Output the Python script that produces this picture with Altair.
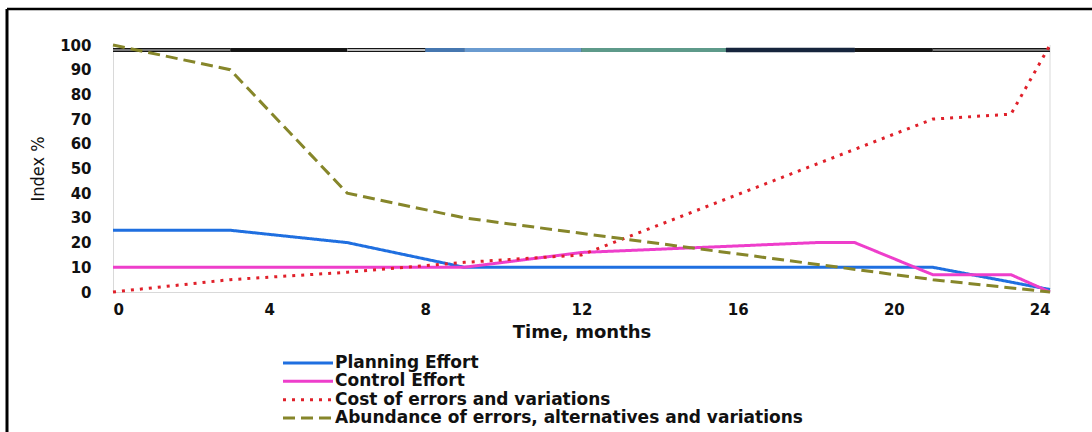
import altair as alt
import pandas as pd

# ---------------- data ----------------
SERIES = [
    "Planning Effort",
    "Control Effort",
    "Cost of errors and variations",
    "Abundance of errors, alternatives  and variations",
]
COLORS = ["#1F6FE0", "#EE3ECB", "#E0202A", "#86862A"]
DASHES = [[1, 0], [1, 0], [3, 6], [12, 6]]

planning_month = [0, 3, 6, 9, 21, 24]
planning_value = [25, 25, 20, 10, 10, 1]

control_month = [0, 9, 12, 18, 19, 21, 23, 24]
control_value = [10, 10, 16, 20, 20, 7, 7, 0]

cost_month = [0, 3, 6, 9, 12, 21, 23, 24]
cost_value = [0, 5, 8, 12, 15, 70, 72, 100]

abund_month = [0, 3, 6, 9, 21, 24]
abund_value = [100, 90, 40, 30, 5, 0]

# the multi-coloured bar along the top of the plot
band_start = [0, 3, 6, 8, 9, 12, 15.7, 19, 21]
band_end = [3, 6, 8, 9, 12, 15.7, 19, 21, 24]
band_kind = ["gray", "black", "white", "blue", "lightblue", "teal", "navy", "black", "gray"]
BAND_LEVEL = 98

x_ticks = [0, 4, 8, 12, 16, 20, 24]
y_ticks = [0, 10, 20, 30, 40, 50, 60, 70, 80, 90, 100]

# ---------------- tables ----------------
rows = []
for name, ms, vs in zip(
    SERIES,
    [planning_month, control_month, cost_month, abund_month],
    [planning_value, control_value, cost_value, abund_value],
):
    for m, v in zip(ms, vs):
        rows.append({"series": name, "month": m, "value": v})
df = pd.DataFrame(rows)

band_df = pd.DataFrame({"start": band_start, "end": band_end, "kind": band_kind})
legend_df = pd.DataFrame({"series": SERIES})

W, H = 937, 247
LEFT, TOP = 113, 45
LABEL_FONT = "DejaVu Sans"

xscale = alt.Scale(domain=[0, 24], nice=False)
yscale = alt.Scale(domain=[0, 100], nice=False)
color_scale = alt.Scale(domain=SERIES, range=COLORS)
dash_scale = alt.Scale(domain=SERIES, range=DASHES)

x_axis = alt.Axis(
    values=x_ticks, title="Time, months", grid=False, ticks=False,
    domainColor="#D9D9D9", labelFont=LABEL_FONT, labelFontSize=15,
    labelFontWeight="bold", labelColor="#111111", labelPadding=10,
    labelOverlap=False,
    titleFont=LABEL_FONT, titleFontSize=18, titleFontWeight="bold",
    titleColor="#111111", titlePadding=6,
)
y_axis = alt.Axis(
    values=y_ticks, tickCount=11, title="Index %", grid=False, ticks=False,
    domainColor="#D9D9D9", labelFont=LABEL_FONT, labelFontSize=15,
    labelFontWeight="bold", labelColor="#111111", labelPadding=22,
    labelOverlap=False, labelBound=False,
    titleFont="Liberation Sans Narrow, DejaVu Sans Condensed, sans-serif",
    titleFontSize=18, titleFontWeight="normal", titleColor="#111111",
    titlePadding=12,
)

# frame (black lines at top and left of the picture)
one = pd.DataFrame({"a": [0]})
frame_top = alt.Chart(one).mark_rule(color="black", strokeWidth=2.5).encode(
    x=alt.value(-LEFT + 7), x2=alt.value(1092 - LEFT), y=alt.value(-TOP + 9)
)
frame_left = alt.Chart(one).mark_rule(color="black", strokeWidth=3).encode(
    x=alt.value(-LEFT + 7), y=alt.value(-TOP + 9), y2=alt.value(432 - TOP)
)

# lines (carry the axes)
lines = alt.Chart(df).mark_line(strokeWidth=3).encode(
    x=alt.X("month:Q", scale=xscale, axis=x_axis),
    y=alt.Y("value:Q", scale=yscale, axis=y_axis),
    color=alt.Color("series:N", scale=color_scale, legend=None),
    strokeDash=alt.StrokeDash("series:N", scale=dash_scale, legend=None),
    order=alt.Order("month:Q"),
)

right_edge = alt.Chart(one).mark_rule(color="#D9D9D9", strokeWidth=1).encode(
    x=alt.datum(24)
)

# top band
band_base = alt.Chart(band_df).mark_rule(color="#151515", strokeWidth=4).encode(
    x="start:Q", x2="end:Q", y=alt.datum(BAND_LEVEL),
)
BAND_STYLE = {
    "gray": ("#9A9A9A", 1.6),
    "white": ("#F4F4F4", 1.6),
    "blue": ("#4677B0", 4),
    "lightblue": ("#6A9BD0", 4),
    "teal": ("#5E9A8A", 4),
    "navy": ("#16253D", 4.5),
}
band_layers = []
for kind, (col, sw) in BAND_STYLE.items():
    band_layers.append(
        alt.Chart(band_df).transform_filter(alt.datum.kind == kind)
        .mark_rule(color=col, strokeWidth=sw)
        .encode(x="start:Q", x2="end:Q", y=alt.datum(BAND_LEVEL))
    )

main = alt.layer(lines.mark_line(opacity=0), frame_top, frame_left, right_edge,
                 band_base, *band_layers, lines)

# custom legend below the plot
leg_y = alt.Y("series:N", scale=alt.Scale(type="point", domain=SERIES,
                                          range=[318, 373], padding=0), axis=None)
legend_lines = alt.Chart(legend_df).mark_rule(strokeWidth=3).encode(
    x=alt.value(170), x2=alt.value(220), y=leg_y,
    color=alt.Color("series:N", scale=color_scale, legend=None),
    strokeDash=alt.StrokeDash("series:N", scale=dash_scale, legend=None),
)
legend_text = alt.Chart(legend_df).mark_text(
    align="left", baseline="middle", font=LABEL_FONT, fontSize=17,
    fontWeight="bold", color="#111111",
).encode(x=alt.value(222), y=leg_y, text="series:N")

legend = alt.layer(legend_lines, legend_text)

chart = (
    alt.layer(main, legend)
    .resolve_scale(y="independent")
    .properties(
        width=W, height=H,
        autosize=alt.AutoSizeParams(type="none"),
        padding={"left": LEFT, "top": TOP, "right": 1092 - LEFT - W, "bottom": 432 - TOP - H},
        background="white",
    )
    .configure_view(stroke=None)
    .configure_axis(labelOverlap=False)
)

chart.save("out.html", embed_options={"renderer": "svg", "actions": False})
